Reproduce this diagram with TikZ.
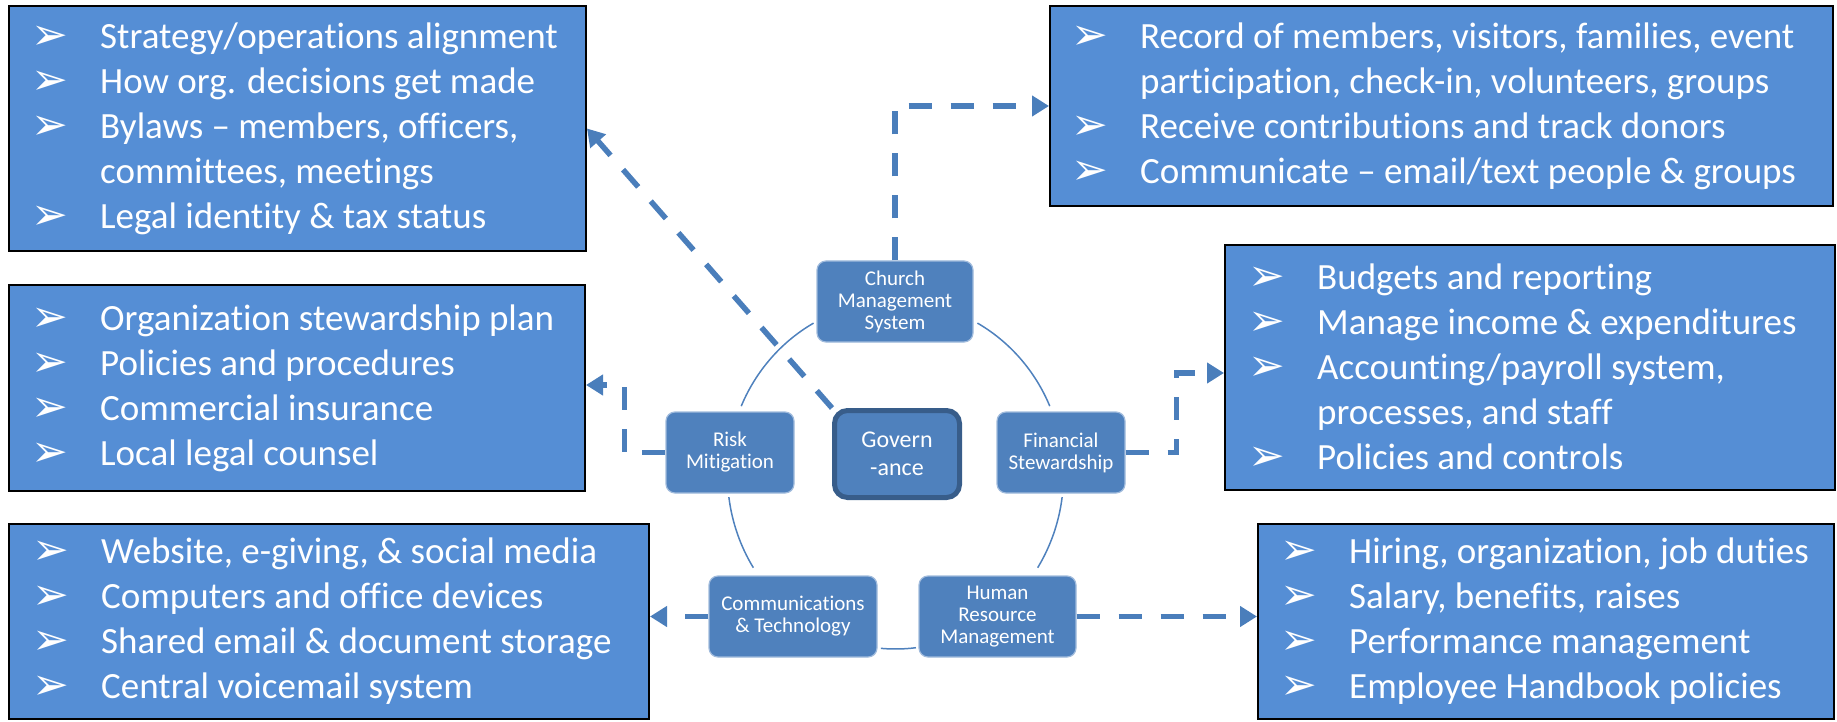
\documentclass[tikz,border=0pt]{standalone}
\usepackage{fontspec}
\setmainfont{Carlito}[Ligatures=NoCommon]
\newfontfamily\bulletfont{DejaVu Sans}
\usetikzlibrary{arrows.meta, calc}
\definecolor{boxblue}{RGB}{85,142,213}
\definecolor{nodeblue}{RGB}{79,129,189}
\definecolor{nodeedge}{RGB}{160,187,220}
\definecolor{govedge}{RGB}{56,93,138}
\definecolor{linkblue}{RGB}{74,126,187}

\newcommand{\itm}{\makebox[69pt][l]{\bulletfont\fontsize{44}{44}\selectfont\raisebox{-1pt}{➢}}}
\newcommand{\cont}{\hspace*{69pt}}

\tikzset{
  listbox/.style={draw=black, line width=2pt, fill=boxblue, inner sep=0pt, anchor=north west},
  listtext/.style={text=white, font=\fontsize{37}{45}\selectfont, align=left, inner sep=0pt, anchor=west},
  part/.style={draw=nodeedge, line width=1.2pt, fill=nodeblue, rounded corners=9pt, text=white,
    font=\fontsize{21}{22}\selectfont, align=center, inner sep=0pt, minimum height=81pt},
  core/.style={part, draw=govedge, line width=5pt, rounded corners=13pt,
    font=\fontsize{24}{28}\selectfont, minimum width=125pt, minimum height=87pt},
  link/.style={draw=linkblue, line width=5.5pt, dash pattern=on 23pt off 19pt,
    -{Triangle[length=17pt,width=20pt]}},
  ring/.style={draw=nodeblue, line width=1.5pt}
}

\begin{document}
\begin{tikzpicture}[x=1pt, y=-1pt]
  \useasboundingbox (0,0) rectangle (1837,722);

  % list boxes
  \node[listbox, minimum width=577pt, minimum height=245pt] (govlist) at (8,5) {};
  \node[listbox, minimum width=783pt, minimum height=200pt] (cmslist) at (1049,5) {};
  \node[listbox, minimum width=576pt, minimum height=206pt] (risklist) at (8,284) {};
  \node[listbox, minimum width=610pt, minimum height=245pt] (finlist) at (1224,244) {};
  \node[listbox, minimum width=640pt, minimum height=195pt] (techlist) at (8,523) {};
  \node[listbox, minimum width=576pt, minimum height=195pt] (hrlist) at (1257,523) {};

  \node[listtext] (govtext) at ([xshift=23pt]govlist.west)
    {\itm Strategy/operations alignment\\ \itm How org. decisions get made\\
     \itm Bylaws – members, officers,\\ \cont committees, meetings\\ \itm Legal identity \& tax status};
  \node[listtext] (cmstext) at ([xshift=22pt]cmslist.west)
    {\itm Record of members, visitors, families, event\\ \cont participation, check-in, volunteers, groups\\
     \itm Receive contributions and track donors\\ \itm Communicate – email/text people \& groups};
  \node[listtext] (risktext) at ([xshift=23pt]risklist.west)
    {\itm Organization stewardship plan\\ \itm Policies and procedures\\
     \itm Commercial insurance\\ \itm Local legal counsel};
  \node[listtext] (fintext) at ([xshift=24pt]finlist.west)
    {\itm Budgets and reporting\\ \itm Manage income \& expenditures\\
     \itm Accounting/payroll system,\\ \cont processes, and staff\\ \itm Policies and controls};
  \node[listtext] (techtext) at ([xshift=24pt]techlist.west)
    {\itm Website, e-giving, \& social media\\ \itm Computers and office devices\\
     \itm Shared email \& document storage\\ \itm Central voicemail system};
  \node[listtext] (hrtext) at ([xshift=23pt]hrlist.west)
    {\itm Hiring, organization, job duties\\ \itm Salary, benefits, raises\\
     \itm Performance management\\ \itm Employee Handbook policies};

  % cycle
  \coordinate (hub) at (895.5,475);
  \draw[ring] ($(hub)+(240.8:168 and 174)$) arc[start angle=240.8, end angle=203.3, x radius=168, y radius=174];
  \draw[ring] ($(hub)+(299.2:168 and 174)$) arc[start angle=299.2, end angle=336.7, x radius=168, y radius=174];
  \draw[ring] ($(hub)+(7.3:168 and 174)$) arc[start angle=7.3, end angle=32.2, x radius=168, y radius=174];
  \draw[ring] ($(hub)+(172.7:168 and 174)$) arc[start angle=172.7, end angle=147.8, x radius=168, y radius=174];
  \draw[ring] ($(hub)+(95:168 and 174)$) arc[start angle=95, end angle=83, x radius=168, y radius=174];

  \node[part, minimum width=156pt] (cms) at (895,301.5) {Church\\Management\\System};
  \node[part, minimum width=128pt] (fin) at (1061,452.5) {Financial\\Stewardship};
  \node[part, minimum width=157pt] (hr) at (997.5,616.5) {Human\\Resource\\Management};
  \node[part, minimum width=168pt] (tech) at (793,616.5) {Communications\\\& Technology};
  \node[part, minimum width=128pt] (risk) at (730,452.5) {Risk\\Mitigation};
  \node[core] (gov) at (897,454) {Govern\\-ance};

  % links
  \draw[link] (gov.north west) -- (govlist.east);
  \draw[link] (cms.north) |- (cmslist.west);
  \draw[link] (fin.east) -- ++(51,0) |- ([yshift=-5.5pt]finlist.west);
  \draw[link] (risk.west) -- ++(-41,0) |- ([yshift=3pt]risklist.east);
  \draw[link] (tech.west) -- (tech.west -| techlist.east);
  \draw[link] (hr.east) -- (hr.east -| hrlist.west);
\end{tikzpicture}
\end{document}
